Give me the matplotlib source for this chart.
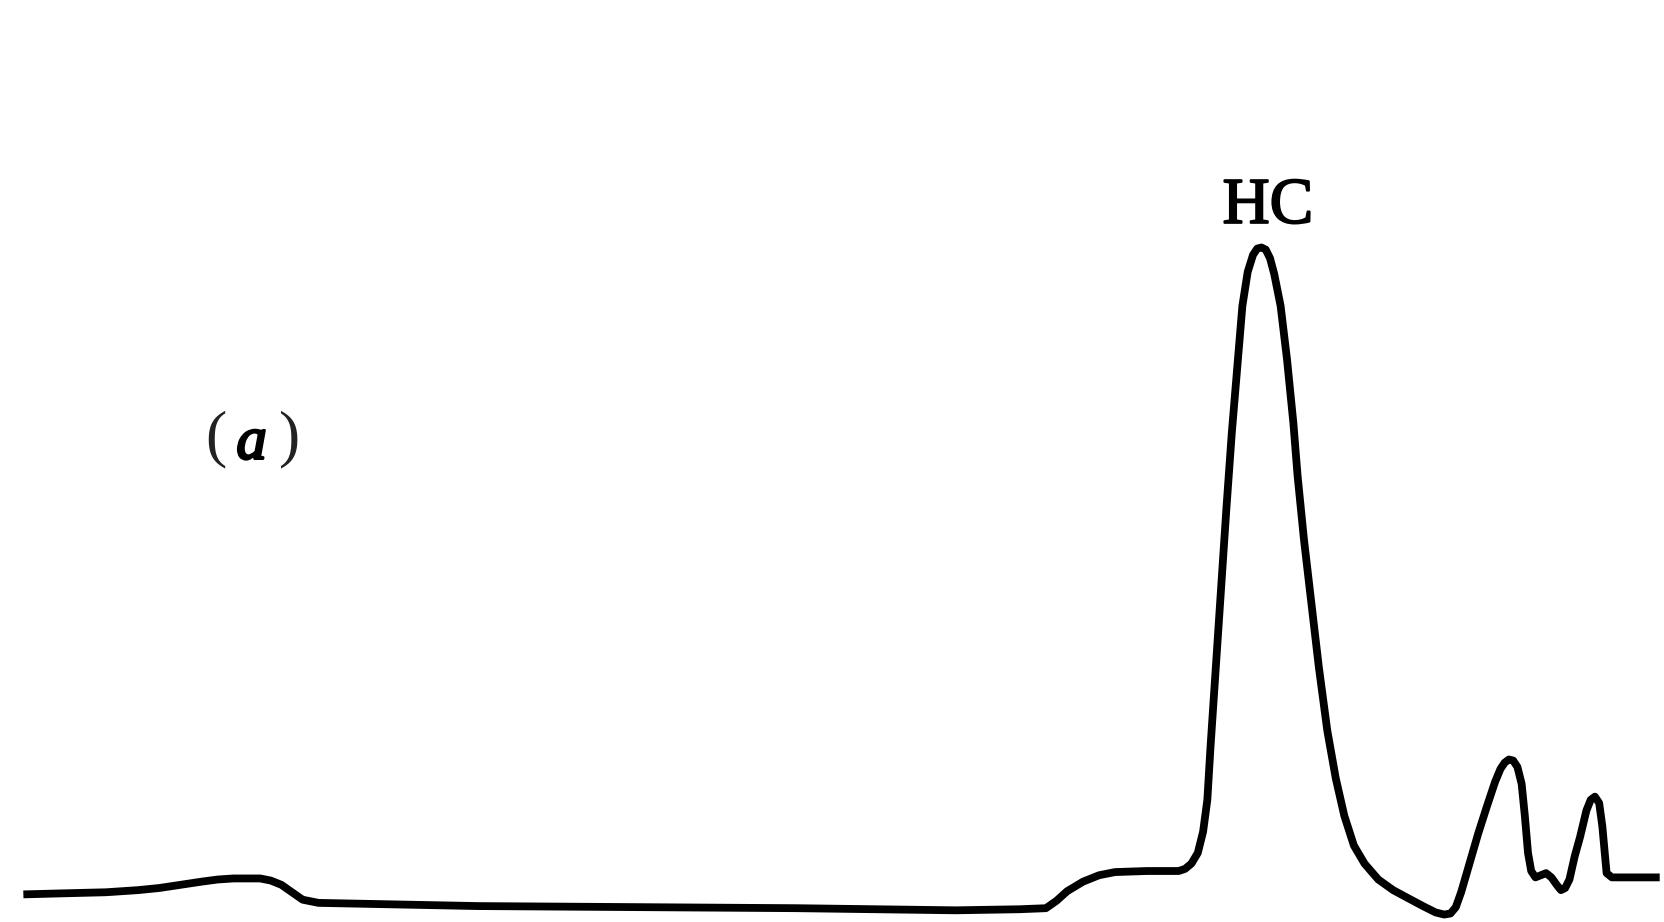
import matplotlib
matplotlib.use("Agg")
import matplotlib.pyplot as plt
import matplotlib.patheffects as pe

# Chromatogram trace: retention position and detector response (arbitrary units)
retention = [
    22, 60, 100, 130, 150, 170, 190, 205, 220, 245, 255, 265, 275, 285, 300,
    350, 450, 600, 750, 900, 960, 985, 995, 1005, 1020, 1035, 1050, 1080, 1110,
    1116, 1122, 1128, 1133, 1137, 1140, 1145, 1150, 1155, 1160, 1165, 1170, 1175,
    1180, 1184, 1188, 1192, 1196, 1200, 1206, 1212, 1218, 1222, 1228, 1235, 1242,
    1250, 1258, 1266, 1275, 1285, 1298, 1312, 1325, 1340, 1352, 1360, 1366, 1371,
    1376, 1383, 1392, 1400, 1408, 1413, 1417, 1421, 1425, 1429, 1433, 1436, 1439,
    1442, 1446, 1451, 1456, 1461, 1466, 1470, 1474, 1478, 1483, 1488, 1494, 1498,
    1502, 1506, 1509, 1513, 1518, 1530, 1563,
]
response = [
    26, 27, 28, 30, 32, 35, 38, 40, 41, 41, 39, 35, 28, 21, 18,
    17, 15, 14, 13, 11, 12, 13, 20, 29, 38, 44, 47, 48, 48,
    50, 55, 65, 85, 115, 165, 240, 315, 390, 460, 520, 580, 612,
    628, 634, 635, 633, 625, 610, 580, 530, 470, 420, 360, 300, 240,
    180, 135, 100, 72, 55, 40, 30, 23, 15, 9, 7, 8, 14,
    28, 52, 83, 108, 132, 144, 150, 153, 152, 146, 130, 100, 65,
    48, 42, 44, 46, 42, 35, 30, 32, 40, 62, 80, 105, 115,
    118, 112, 90, 46, 42, 42, 42,
]

fig = plt.figure(figsize=(16.65, 9.22), dpi=100)
ax = fig.add_axes([0, 0, 1, 1])
ax.plot(retention, response, color="black", lw=5.6,
        solid_joinstyle="round", solid_capstyle="butt")

ax.set_xlim(0, 1568)
ax.set_ylim(0, 868)
ax.axis("off")

# Peak label and panel label
heavy = [pe.withStroke(linewidth=1.4, foreground="black")]
ax.text(1194, 673, "HC", family="Liberation Serif", fontsize=47,
        ha="center", va="center", color="black", path_effects=heavy)
ax.text(203, 454, "(", family="Liberation Serif", fontsize=46,
        ha="center", va="center", color="#222222")
ax.text(237, 450, "a", family="Liberation Serif", style="italic",
        fontsize=44, ha="center", va="center", color="black",
        path_effects=[pe.withStroke(linewidth=1.8, foreground="black")])
ax.text(273, 454, ")", family="Liberation Serif", fontsize=46,
        ha="center", va="center", color="#222222")

fig.savefig("out.png", dpi=100, facecolor="white")
